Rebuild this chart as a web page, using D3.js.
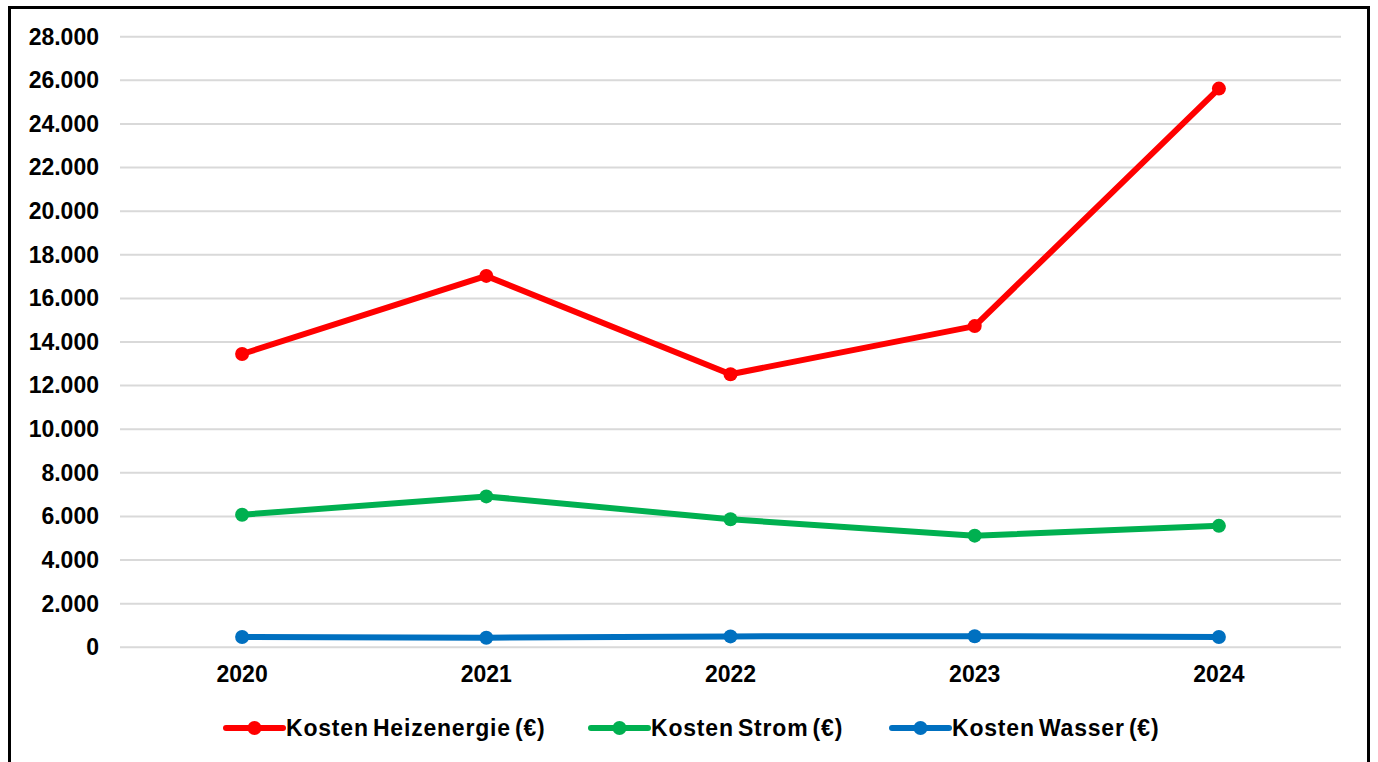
<!DOCTYPE html>
<html><head><meta charset="utf-8">
<script src="https://cdn.jsdelivr.net/npm/d3@7"></script>
<style>
html,body{margin:0;padding:0;background:#fff;}
svg{display:block;font-family:"Liberation Sans",Arial,sans-serif;font-weight:bold;}
</style></head>
<body>
<script>
const years = ["2020","2021","2022","2023","2024"];
const heizenergie = [13450, 17030, 12520, 14730, 25620];
const strom = [6080, 6920, 5870, 5120, 5570];
const wasser = [470, 440, 500, 510, 470];
const seriesNames = ["Kosten Heizenergie (€)","Kosten Strom (€)","Kosten Wasser (€)"];
const seriesColors = ["#ff0000","#00b050","#0070c0"];
const yTicks = [0,2000,4000,6000,8000,10000,12000,14000,16000,18000,20000,22000,24000,26000,28000];

const W=1378,H=762;
const svg=d3.select("body").append("svg").attr("width",W).attr("height",H);
svg.append("rect").attr("x",9.5).attr("y",7.5).attr("width",1359).attr("height",H+10)
  .attr("fill","#fff").attr("stroke","#000").attr("stroke-width",3);

const x=d3.scaleBand().domain(years).range([120,1341]);
const y=d3.scaleLinear().domain([0,28000]).range([647.3,36.7]);
const fmt=v=>d3.format(",")(v).replace(/,/g,".");
const FS=23;

const g=svg.append("g");
g.selectAll("line.grid").data(yTicks).enter().append("line")
  .attr("x1",120).attr("x2",1341).attr("y1",d=>y(d)).attr("y2",d=>y(d))
  .attr("stroke","#d9d9d9").attr("stroke-width",2);

const yAxis=svg.append("g").attr("transform","translate(120,0)")
  .call(d3.axisLeft(y).tickValues(yTicks).tickFormat(fmt).tickSize(0).tickPadding(21));
yAxis.select(".domain").remove();
yAxis.selectAll("text").attr("font-size",FS).attr("font-weight","bold").attr("fill","#000")
  .attr("font-family","Liberation Sans, Arial, sans-serif");

const xAxis=svg.append("g").attr("transform","translate(0,647.3)")
  .call(d3.axisBottom(x).tickSize(0).tickPadding(18));
xAxis.select(".domain").remove();
xAxis.selectAll("text").attr("font-size",FS).attr("font-weight","bold").attr("fill","#000")
  .attr("font-family","Liberation Sans, Arial, sans-serif");

const data=[heizenergie,strom,wasser];
const line=d3.line().x((d,i)=>x(years[i])+x.bandwidth()/2).y(d=>y(d));
data.forEach((s,k)=>{
  svg.append("path").datum(s).attr("d",line).attr("fill","none")
    .attr("stroke",seriesColors[k]).attr("stroke-width",6).attr("stroke-linejoin","round");
  svg.selectAll(null).data(s).enter().append("circle")
    .attr("cx",(d,i)=>x(years[i])+x.bandwidth()/2).attr("cy",d=>y(d)).attr("r",7)
    .attr("fill",seriesColors[k]);
});

// legend
const legX=[226,591,892];
const lg=svg.append("g");
seriesNames.forEach((n,k)=>{
  const gx=legX[k], gy=728;
  lg.append("line").attr("x1",gx).attr("x2",gx+57).attr("y1",gy).attr("y2",gy)
    .attr("stroke",seriesColors[k]).attr("stroke-width",6).attr("stroke-linecap","round");
  lg.append("circle").attr("cx",gx+28.5).attr("cy",gy).attr("r",7).attr("fill",seriesColors[k]);
  lg.append("text").attr("x",gx+60).attr("y",gy).attr("dy","0.35em")
    .attr("font-size",FS).attr("fill","#000").attr("word-spacing","-3px")
    .attr("letter-spacing","0.8px").text(n);
});
</script>
</body></html>
